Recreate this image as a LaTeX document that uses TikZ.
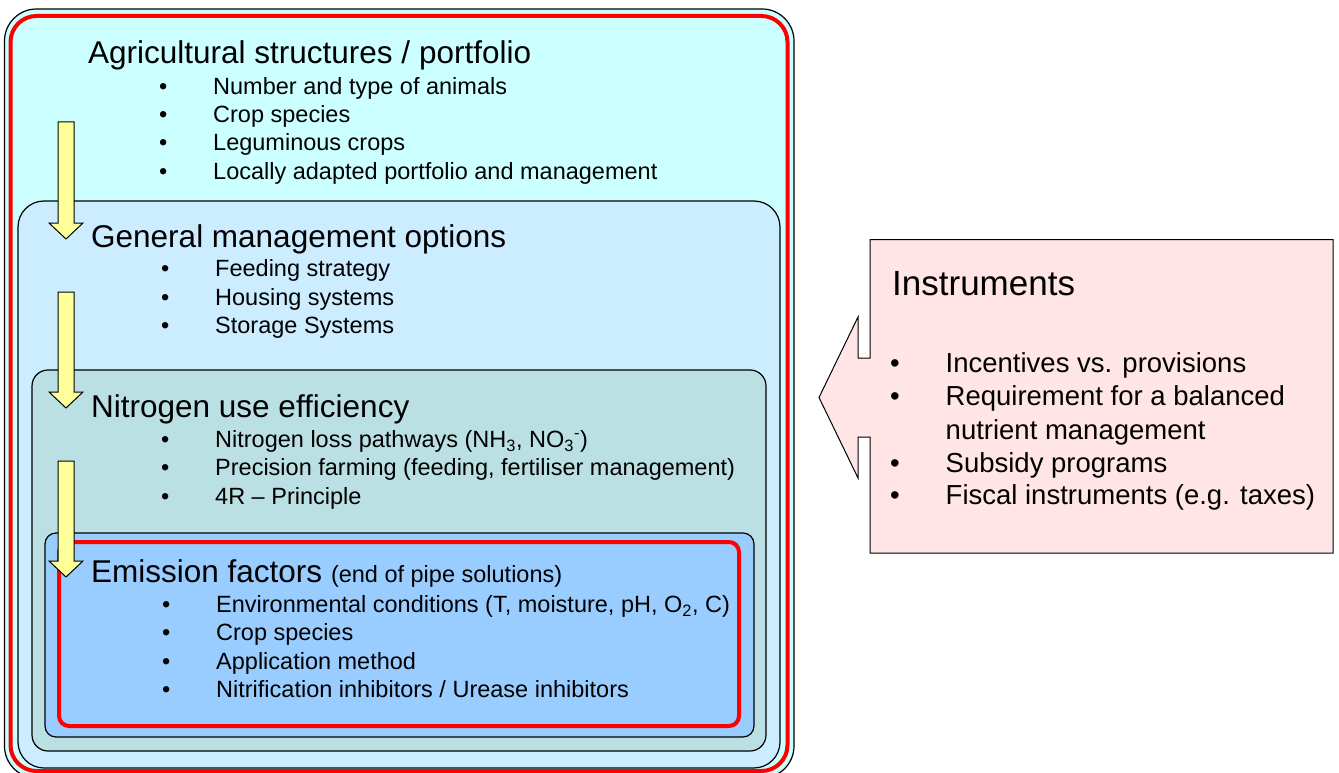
\documentclass[tikz,border=0pt]{standalone}
\usepackage{fontspec}
\setmainfont{Liberation Sans}
\definecolor{outercyan}{HTML}{CCFFFF}
\definecolor{genblue}{HTML}{CCECFF}
\definecolor{nteal}{HTML}{BBE0E3}
\definecolor{emblue}{HTML}{99CCFF}
\definecolor{instpink}{HTML}{FFE5E5}
\definecolor{ayellow}{HTML}{FFFF99}
\definecolor{pred}{HTML}{FF0000}
\tikzset{
  ttl/.style={anchor=base west, inner sep=0pt, font=\fontsize{31.5}{36}\selectfont},
  btxt/.style={anchor=base west, inner sep=0pt, font=\fontsize{23.5}{28}\selectfont},
  ititle/.style={anchor=base west, inner sep=0pt, font=\fontsize{35}{40}\selectfont},
  itxt/.style={anchor=base west, inner sep=0pt, font=\fontsize{27.5}{33}\selectfont},
  yarrow/.style={fill=ayellow, draw=black, line width=1pt, line join=miter},
  blackbox/.style={draw=black, line width=1.2pt},
  redbox/.style={draw=pred, line width=4pt}
}
\begin{document}
\begin{tikzpicture}[x=1pt,y=-1pt]
\useasboundingbox (0,0) rectangle (1339,773);
% outer boxes
\draw[blackbox, fill=outercyan, rounded corners=32pt] (4.5,9) rectangle (794,778);
\draw[redbox, fill=outercyan, rounded corners=26pt] (10.5,16) rectangle (787.5,771);
\draw[blackbox, fill=genblue, rounded corners=26pt] (18,201) rectangle (780,768);
\draw[blackbox, fill=nteal, rounded corners=16pt] (32,370) rectangle (766,751);
\draw[blackbox, fill=emblue, rounded corners=11pt] (45,533) rectangle (754,737);
\draw[redbox, rounded corners=10pt] (59,542) rectangle (739,726);

% Agricultural structures
\node[ttl] (t1) at (88,63.3) {Agricultural structures / portfolio};
\node[btxt] (d1a) at (159,94.3) {•};
\node[btxt] (s1a) at (213,94.3) {Number and type of animals};
\node[btxt] (d1b) at (159,122.6) {•};
\node[btxt] (s1b) at (213,122.6) {Crop species};
\node[btxt] (d1c) at (159,150.8) {•};
\node[btxt] (s1c) at (213,150.8) {Leguminous crops};
\node[btxt] (d1d) at (159,179) {•};
\node[btxt] (s1d) at (213,179) {Locally adapted portfolio and management};

% General management
\node[ttl] (t2) at (91,247.5) {General management options};
\node[btxt] (d2a) at (161,276.5) {•};
\node[btxt] (s2a) at (215,276.5) {Feeding strategy};
\node[btxt] (d2b) at (161,305) {•};
\node[btxt] (s2b) at (215,305) {Housing systems};
\node[btxt] (d2c) at (161,333.5) {•};
\node[btxt] (s2c) at (215,333.5) {Storage Systems};

% Nitrogen use efficiency
\node[ttl] (t3) at (91,417.5) {Nitrogen use efficiency};
\node[btxt] (d3a) at (161,447.5) {•};
\node[btxt] (s3a) at (215,447.5) {Nitrogen loss pathways (NH\textsubscript{3}, NO\textsubscript{3}\textsuperscript{-})};
\node[btxt] (d3b) at (161,475.5) {•};
\node[btxt] (s3b) at (215,475.5) {Precision farming (feeding, fertiliser management)};
\node[btxt] (d3c) at (161,504) {•};
\node[btxt] (s3c) at (215,504) {4R – Principle};

% Emission factors
\node[ttl] (t4) at (91,582.3) {Emission factors \fontsize{23.5}{28}\selectfont(end of pipe solutions)};
\node[btxt] (d4a) at (162,612.3) {•};
\node[btxt] (s4a) at (216,612.3) {Environmental conditions (T, moisture, pH, O\textsubscript{2}, C)};
\node[btxt] (d4b) at (162,640.7) {•};
\node[btxt] (s4b) at (216,640.7) {Crop species};
\node[btxt] (d4c) at (162,669) {•};
\node[btxt] (s4c) at (216,669) {Application method};
\node[btxt] (d4d) at (162,697.3) {•};
\node[btxt] (s4d) at (216,697.3) {Nitrification inhibitors / Urease inhibitors};

% yellow block arrows
\draw[yarrow] (58,122) -- (74,122) -- (74,223) -- (83,223) -- (66,239) -- (49,223) -- (58,223) -- cycle;
\draw[yarrow] (58,292) -- (74,292) -- (74,392) -- (83,392) -- (66,408) -- (49,392) -- (58,392) -- cycle;
\draw[yarrow] (58,461) -- (74,461) -- (74,561) -- (83,561) -- (66,577) -- (49,561) -- (58,561) -- cycle;

% Instruments callout
\draw[fill=instpink, draw=black, line width=1pt, line join=miter]
  (870,239.5) -- (1333,239.5) -- (1333,553) -- (870,553) -- (870,437) -- (858,437)
  -- (858,478) -- (819,397.5) -- (858,317) -- (858,358) -- (870,358) -- cycle;
\node[ititle] (ti) at (892,295) {Instruments};
\node[itxt] (dia) at (890,372.3) {•};
\node[itxt] (sia) at (945.5,372.3) {Incentives vs. provisions};
\node[itxt] (dib) at (890,405.7) {•};
\node[itxt] (sib) at (945.5,405.7) {Requirement for a balanced};
\node[itxt] (sib2) at (945.5,439) {nutrient management};
\node[itxt] (dic) at (890,472.3) {•};
\node[itxt] (sic) at (945.5,472.3) {Subsidy programs};
\node[itxt] (did) at (890,504.5) {•};
\node[itxt] (sid) at (945.5,504.5) {Fiscal instruments (e.g. taxes)};
\end{tikzpicture}
\end{document}
